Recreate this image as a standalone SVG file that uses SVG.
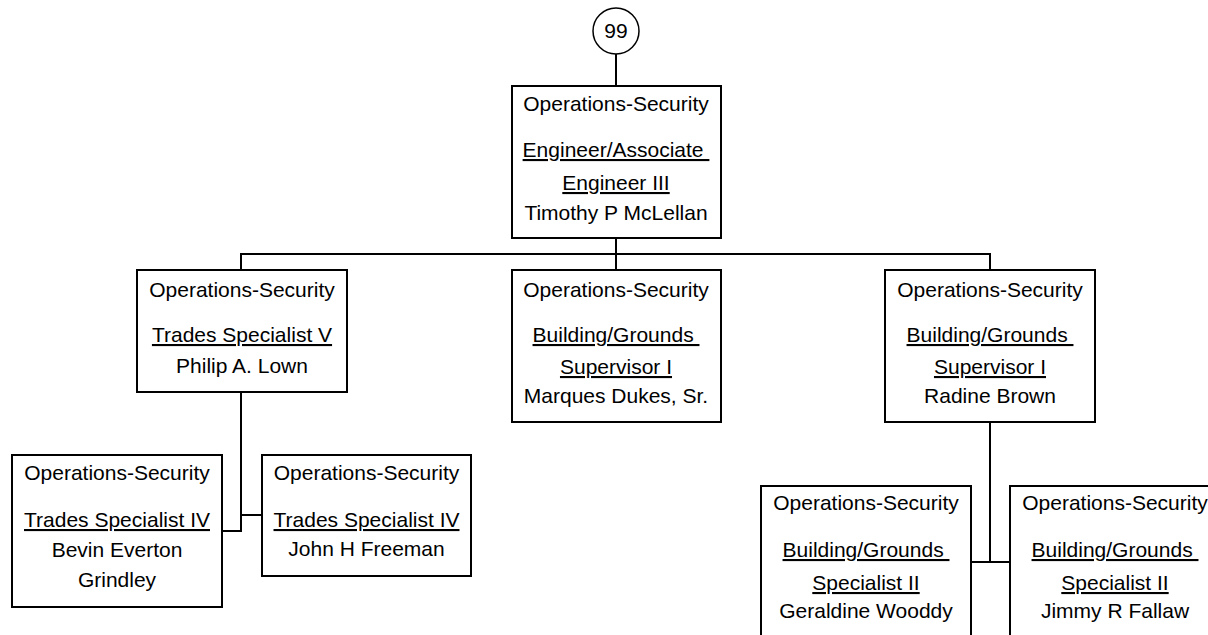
<svg xmlns="http://www.w3.org/2000/svg" width="1208" height="635" viewBox="0 0 1208 635">
<style>
.box{fill:#fff;stroke:#000;stroke-width:2}
.t{font-family:"Liberation Sans",Arial,sans-serif;font-size:21px;fill:#000;text-anchor:middle}
.u{text-decoration:underline}
.c{fill:none;stroke:#000;stroke-width:2}
</style>
<rect width="1208" height="635" fill="#fff"/>
<g id="connectors">
<line class="c" x1="616" y1="54" x2="616" y2="86"/>
<polyline class="c" points="616,238 616,254"/>
<polyline class="c" points="241,270 241,254 990,254 990,270"/>
<line class="c" x1="616" y1="254" x2="616" y2="270"/>
<polyline class="c" points="241,392 241,531 222,531"/>
<line class="c" x1="241" y1="515" x2="262" y2="515"/>
<line class="c" x1="990" y1="422" x2="990" y2="562"/>
<line class="c" x1="971" y1="562" x2="1010" y2="562"/>
</g>
<g id="n99">
<circle cx="616" cy="31" r="23" fill="#fff" stroke="#000" stroke-width="1.5"/>
<text class="t" x="616" y="38">99</text>
</g>
<g id="n-mclellan">
<rect class="box" x="512" y="86" width="209" height="152"/>
<text class="t" x="616" y="111">Operations-Security</text>
<text class="t u" x="616" y="157" xml:space="preserve">Engineer/Associate </text>
<text class="t u" x="616" y="190">Engineer III</text>
<text class="t" x="616" y="220">Timothy P McLellan</text>
</g>
<g id="n-lown">
<rect class="box" x="137" y="270" width="210" height="122"/>
<text class="t" x="242" y="297">Operations-Security</text>
<text class="t u" x="242" y="342">Trades Specialist V</text>
<text class="t" x="242" y="373">Philip A. Lown</text>
</g>
<g id="n-dukes">
<rect class="box" x="512" y="270" width="209" height="152"/>
<text class="t" x="616" y="297">Operations-Security</text>
<text class="t u" x="616" y="342" xml:space="preserve">Building/Grounds </text>
<text class="t u" x="616" y="374">Supervisor I</text>
<text class="t" x="616" y="403">Marques Dukes, Sr.</text>
</g>
<g id="n-brown">
<rect class="box" x="885" y="270" width="210" height="152"/>
<text class="t" x="990" y="297">Operations-Security</text>
<text class="t u" x="990" y="342" xml:space="preserve">Building/Grounds </text>
<text class="t u" x="990" y="374">Supervisor I</text>
<text class="t" x="990" y="403">Radine Brown</text>
</g>
<g id="n-grindley">
<rect class="box" x="12" y="455" width="210" height="152"/>
<text class="t" x="117" y="480">Operations-Security</text>
<text class="t u" x="117" y="527">Trades Specialist IV</text>
<text class="t" x="117" y="557">Bevin Everton</text>
<text class="t" x="117" y="587">Grindley</text>
</g>
<g id="n-freeman">
<rect class="box" x="262" y="455" width="209" height="121"/>
<text class="t" x="366.5" y="480">Operations-Security</text>
<text class="t u" x="366.5" y="527">Trades Specialist IV</text>
<text class="t" x="366.5" y="556">John H Freeman</text>
</g>
<g id="n-wooddy">
<rect class="box" x="761" y="486" width="210" height="160"/>
<text class="t" x="866" y="510">Operations-Security</text>
<text class="t u" x="866" y="557" xml:space="preserve">Building/Grounds </text>
<text class="t u" x="866" y="590">Specialist II</text>
<text class="t" x="866" y="618">Geraldine Wooddy</text>
</g>
<g id="n-fallaw">
<rect class="box" x="1010" y="486" width="210" height="160"/>
<text class="t" x="1115" y="510">Operations-Security</text>
<text class="t u" x="1115" y="557" xml:space="preserve">Building/Grounds </text>
<text class="t u" x="1115" y="590">Specialist II</text>
<text class="t" x="1115" y="618">Jimmy R Fallaw</text>
</g>
</svg>
